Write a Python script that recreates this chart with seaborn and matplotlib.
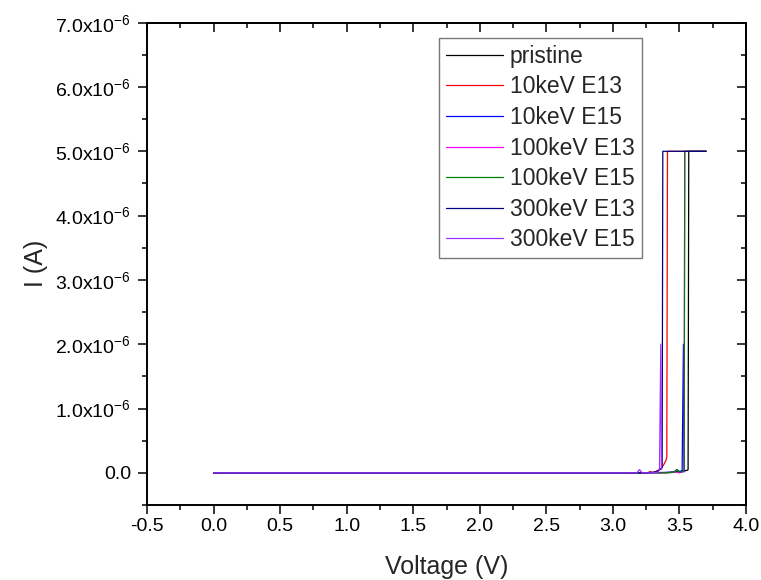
import matplotlib
matplotlib.use("Agg")
import matplotlib.pyplot as plt
import seaborn as sns
import pandas as pd
from matplotlib.ticker import MultipleLocator, FuncFormatter

sns.set_theme(style="white")
plt.rcParams['font.family'] = ['Liberation Sans', 'DejaVu Sans']
plt.rcParams['mathtext.fontset'] = 'custom'
plt.rcParams['mathtext.rm'] = 'Liberation Sans'
plt.rcParams['mathtext.it'] = 'Liberation Sans'
plt.rcParams['mathtext.bf'] = 'Liberation Sans'

labels = ["pristine", "10keV E13", "10keV E15", "100keV E13",
          "100keV E15", "300keV E13", "300keV E15"]
colors = ["#000000", "#ff0000", "#0000ff", "#ff00ff",
          "#008000", "#000080", "#9933ff"]

# Voltage (V) and current (A)
v_pristine = [0.0, 3.00, 3.40, 3.50, 3.56, 3.565, 3.57, 3.70]
i_pristine = [0.0, 0.0, 0.005e-6, 0.02e-6, 0.04e-6, 0.05e-6, 5.0e-6, 5.0e-6]

v_10e13 = [0.0, 3.20, 3.26, 3.28, 3.30, 3.33, 3.36, 3.38, 3.40, 3.405, 3.41, 3.70]
i_10e13 = [0.0, 0.0, 0.0, 0.02e-6, 0.0, 0.03e-6, 0.06e-6, 0.12e-6, 0.2e-6, 0.25e-6, 5.0e-6, 5.0e-6]

v_10e15 = [0.0, 3.30, 3.46, 3.48, 3.50, 3.52, 3.53, 3.535, 3.54]
i_10e15 = [0.0, 0.0, 0.01e-6, 0.05e-6, 0.02e-6, 0.03e-6, 2.0e-6, 0.02e-6, 0.02e-6]

v_100e13 = [0.0, 3.40, 3.48, 3.50, 3.52, 3.535, 3.54, 3.70]
i_100e13 = [0.0, 0.0, 0.01e-6, 0.0, 0.01e-6, 0.02e-6, 5.0e-6, 5.0e-6]

v_100e15 = [0.0, 3.40, 3.46, 3.48, 3.50, 3.53, 3.535, 3.54, 3.70]
i_100e15 = [0.0, 0.0, 0.01e-6, 0.05e-6, 0.01e-6, 0.02e-6, 0.05e-6, 5.0e-6, 5.0e-6]

v_300e13 = [0.0, 3.25, 3.30, 3.33, 3.35, 3.37, 3.375, 3.70]
i_300e13 = [0.0, 0.0, 0.01e-6, 0.02e-6, 0.05e-6, 0.08e-6, 5.0e-6, 5.0e-6]

v_300e15 = [0.0, 3.18, 3.20, 3.22, 3.30, 3.34, 3.35, 3.36, 3.365]
i_300e15 = [0.0, 0.0, 0.05e-6, 0.0, 0.0, 0.01e-6, 0.05e-6, 2.0e-6, 0.05e-6]

series_v = [v_pristine, v_10e13, v_10e15, v_100e13, v_100e15, v_300e13, v_300e15]
series_i = [i_pristine, i_10e13, i_10e15, i_100e13, i_100e15, i_300e13, i_300e15]

frames = []
for lab, vv, ii in zip(labels, series_v, series_i):
    frames.append(pd.DataFrame({"V": vv, "I": ii, "sample": lab}))
df = pd.concat(frames, ignore_index=True)

fig = plt.figure(figsize=(7.61, 5.80), dpi=100)
ax = fig.add_axes([147 / 761, 1 - 505 / 580, 599 / 761, (505 - 22.7) / 580])

sns.lineplot(data=df, x="V", y="I", hue="sample", hue_order=labels,
             palette=dict(zip(labels, colors)),
             estimator=None, sort=False, linewidth=0.9, ax=ax)

ax.set_xlim(-0.5, 4.0)
ax.set_ylim(-0.5e-6, 7.0e-6)
ax.xaxis.set_major_locator(MultipleLocator(0.5))
ax.xaxis.set_minor_locator(MultipleLocator(0.25))
ax.yaxis.set_major_locator(MultipleLocator(1e-6))
ax.yaxis.set_minor_locator(MultipleLocator(0.5e-6))
ax.xaxis.set_major_formatter(FuncFormatter(lambda x, p: f"{x:.1f}"))


def yfmt(y, p):
    m = y / 1e-6
    if abs(m) < 1e-9:
        return "0.0"
    return f"{m:.1f}x10$^{{-6}}$"


ax.yaxis.set_major_formatter(FuncFormatter(yfmt))

for s in ax.spines.values():
    s.set_visible(True)
    s.set_color("black")
    s.set_linewidth(1.4)

ax.tick_params(which="both", direction="out", left=True, bottom=True,
               top=False, right=False, colors="black", width=1.1,
               labelsize=14)
ax.tick_params(which="major", length=6.5)
ax.tick_params(which="minor", length=3.6)
ax.tick_params(axis="x", which="major", pad=3)
ax.tick_params(axis="y", which="major", pad=5)

secx = ax.secondary_xaxis("top")
secx.xaxis.set_major_locator(MultipleLocator(0.5))
secx.xaxis.set_minor_locator(MultipleLocator(0.25))
secx.tick_params(which="both", direction="in", labeltop=False, width=1.1, colors="black")
secx.tick_params(which="major", length=6.5)
secx.tick_params(which="minor", length=3.6)
secx.spines["top"].set_linewidth(1.4)

secy = ax.secondary_yaxis("right")
secy.yaxis.set_major_locator(MultipleLocator(1e-6))
secy.yaxis.set_minor_locator(MultipleLocator(0.5e-6))
secy.tick_params(which="both", direction="in", labelright=False, width=1.1, colors="black")
secy.tick_params(which="major", length=6.5)
secy.tick_params(which="minor", length=3.6)
secy.spines["right"].set_linewidth(1.4)

ax.set_xlabel("Voltage (V)", fontsize=18, labelpad=14)
ax.set_ylabel("I (A)", fontsize=18, labelpad=5)

handles, labs = ax.get_legend_handles_labels()
leg = ax.legend(handles, labs, loc="upper left",
                bbox_to_anchor=((439 - 147) / 599, (505 - 38) / (505 - 22.7)),
                frameon=True, fancybox=False, edgecolor="#555555",
                fontsize=16.5, handlelength=2.5, handletextpad=0.3,
                labelspacing=0.33, borderpad=0.3, borderaxespad=0.0)
leg.get_frame().set_linewidth(1.0)
for h in leg.get_lines():
    h.set_linewidth(0.9)

fig.savefig("out.png", dpi=100)
